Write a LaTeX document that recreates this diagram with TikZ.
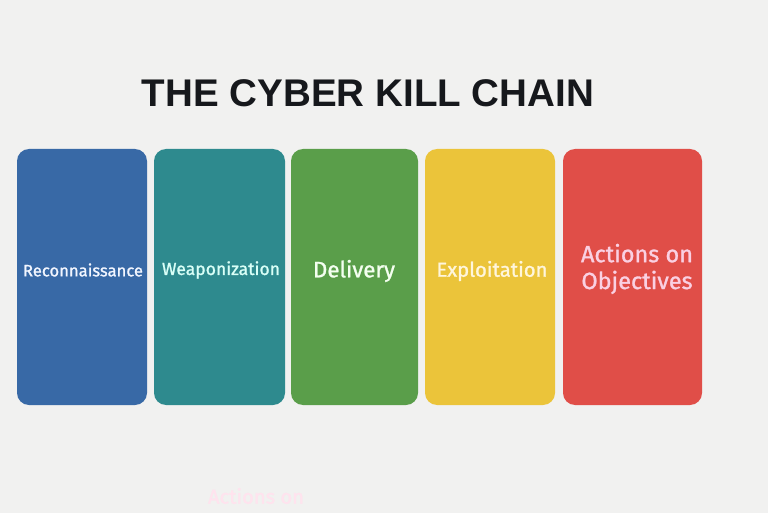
\documentclass[tikz,border=0pt]{standalone}
\usepackage{fontspec}
\setmainfont{Fira Sans}
\newfontfamily\lblfont[FakeBold=1.2]{Fira Sans}
\newfontfamily\titlefont{Liberation Sans}
\usepackage{graphicx}
\definecolor{bg}{HTML}{F1F1F0}
\definecolor{cRecon}{HTML}{3869A6}
\definecolor{cWeap}{HTML}{2E8A8E}
\definecolor{cDeliv}{HTML}{5A9E4A}
\definecolor{cExpl}{HTML}{EBC43A}
\definecolor{cAct}{HTML}{E04E48}
\definecolor{tTitle}{HTML}{16181C}
\definecolor{tRecon}{HTML}{F2F6FF}
\definecolor{tWeap}{HTML}{D9FFF7}
\definecolor{tDeliv}{HTML}{F4FFF0}
\definecolor{tExpl}{HTML}{FFF6DC}
\definecolor{tAct}{HTML}{FAD0E2}
\definecolor{tGhost}{HTML}{FFE3EE}
\tikzset{
  stagebox/.style={rounded corners=12pt, draw=none},
  stagelabel/.style={align=center, inner sep=0pt, font=\lblfont\fontsize{16}{16}\selectfont},
}
\begin{document}
\begin{tikzpicture}[x=1pt,y=-1pt]
\useasboundingbox (0,0) rectangle (768,513);
\fill[bg] (0,0) rectangle (768,513);
\node[inner sep=0pt, text=tTitle] (title) at (368,93)
  {\resizebox{452pt}{!}{\titlefont\bfseries THE CYBER KILL CHAIN}};
\fill[cRecon, stagebox] (17,149) rectangle (147,405);
\fill[cWeap, stagebox] (154,149) rectangle (285,405);
\fill[cDeliv, stagebox] (291,149) rectangle (418,405);
\fill[cExpl, stagebox] (425,149) rectangle (555,405);
\fill[cAct, stagebox] (563,149) rectangle (702,405);
\node[stagelabel, text=tRecon] (recon) at (83,270) {\resizebox{120pt}{!}{Reconnaissance}};
\node[stagelabel, text=tWeap] (weap) at (221,270) {\resizebox{118pt}{!}{Weaponization}};
\node[stagelabel, text=tDeliv] (deliv) at (354,271) {\resizebox{82pt}{!}{Delivery}};
\node[stagelabel, text=tExpl] (expl) at (492,271) {\resizebox{111pt}{!}{Exploitation}};
\node[stagelabel, text=tAct] (act) at (637,270) {\resizebox{112pt}{!}{\begin{tabular}{@{}c@{}}Actions on\\[1pt]Objectives\end{tabular}}};
\node[stagelabel, text=tGhost] (ghost) at (256,496) {\resizebox{96pt}{!}{Actions on}};
\end{tikzpicture}
\end{document}
